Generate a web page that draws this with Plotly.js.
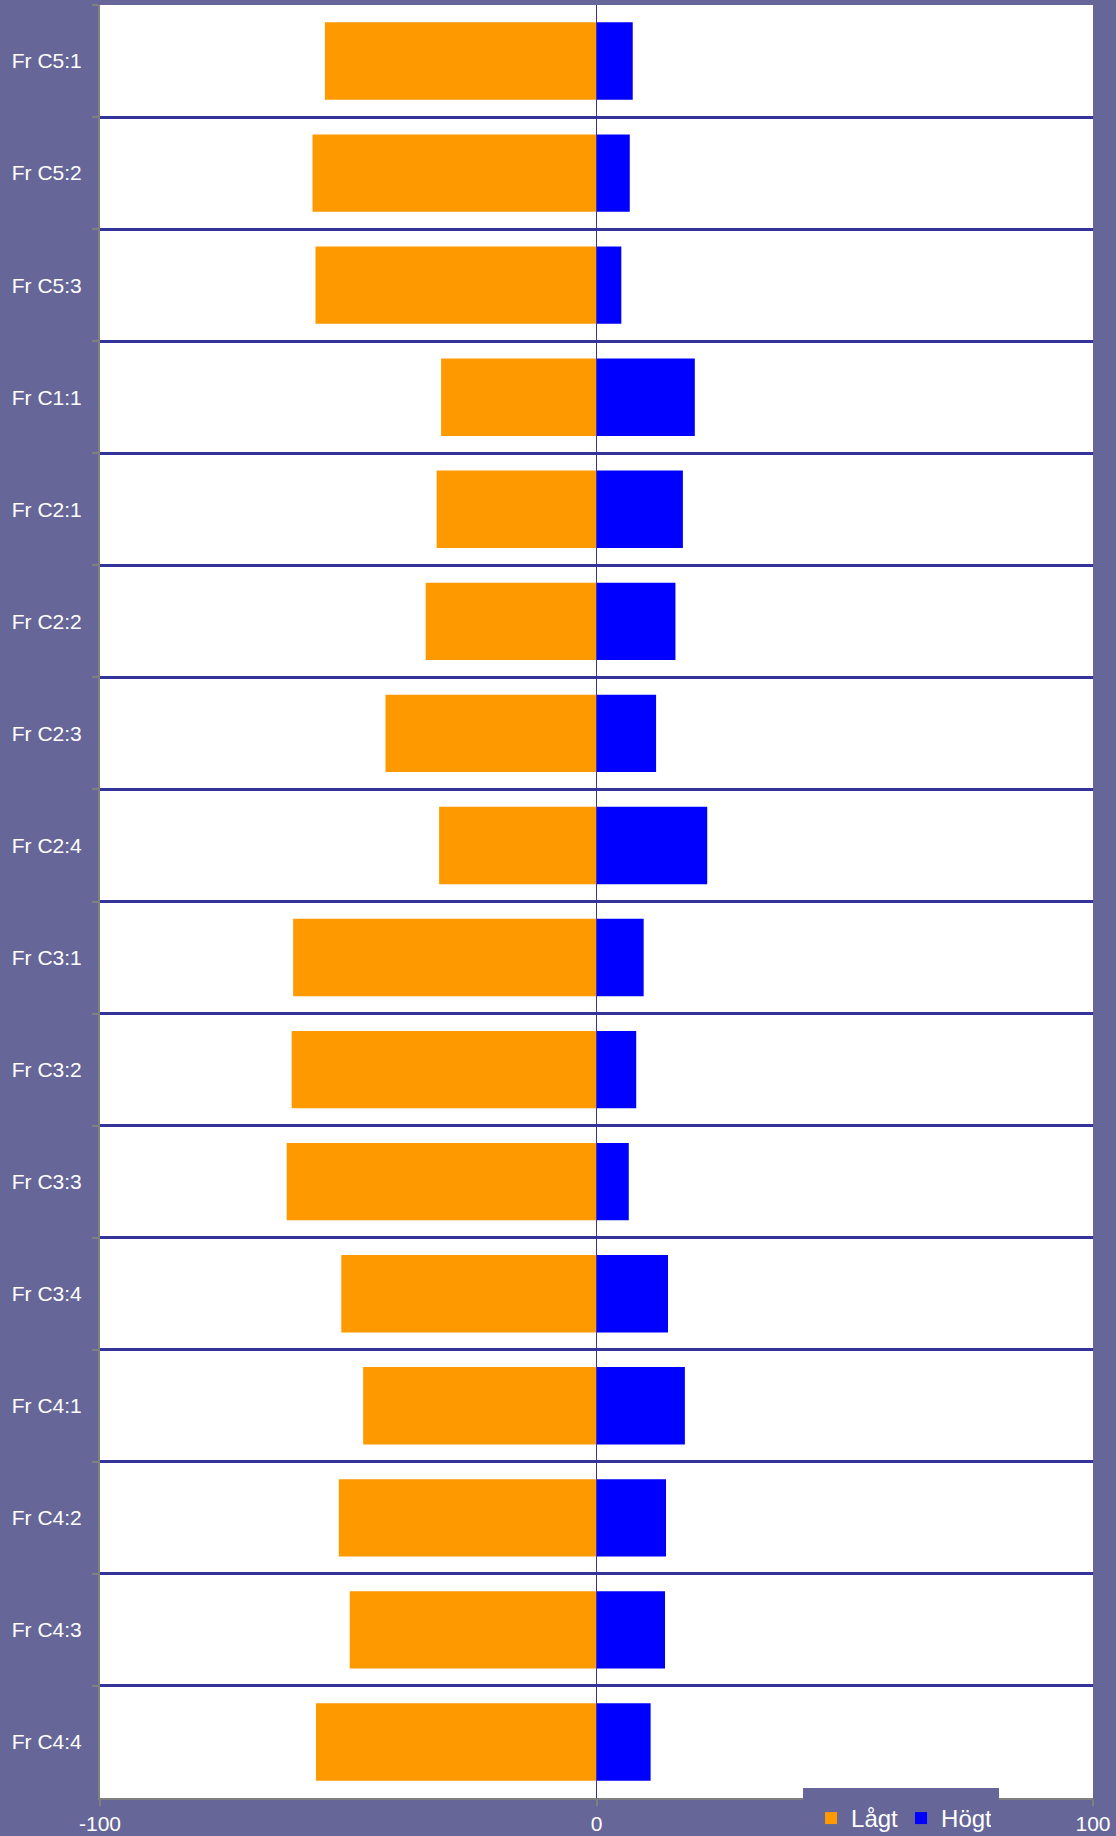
<!DOCTYPE html>
<html>
<head>
<meta charset="utf-8">
<script src="https://cdn.plot.ly/plotly-3.0.1.min.js"></script>
<style>html,body{margin:0;padding:0;background:#666699;}#chart{width:1116px;height:1836px;}</style>
</head>
<body>
<div id="chart"></div>
<script>
var categories = ["Fr C5:1","Fr C5:2","Fr C5:3","Fr C1:1","Fr C2:1","Fr C2:2","Fr C2:3","Fr C2:4","Fr C3:1","Fr C3:2","Fr C3:3","Fr C3:4","Fr C4:1","Fr C4:2","Fr C4:3","Fr C4:4"];
var lagt = [-54.7,-57.2,-56.6,-31.3,-32.2,-34.4,-42.5,-31.7,-61.1,-61.4,-62.4,-51.4,-47.0,-51.9,-49.7,-56.5];
var hogt = [7.3,6.7,5.0,19.8,17.4,15.9,12.0,22.3,9.5,8.0,6.5,14.4,17.8,14.0,13.8,10.9];
var xTicks = [-100,0,100];
var seriesNames = ["Lågt","Högt"];

var traces = [
  {type:"bar", orientation:"h", name:seriesNames[0], y:categories, x:lagt,
   marker:{color:"#FF9900", line:{width:0}}, hoverinfo:"x+y"},
  {type:"bar", orientation:"h", name:seriesNames[1], y:categories, x:hogt,
   marker:{color:"#0000FF", line:{width:0}}, hoverinfo:"x+y"}
];

var layout = {
  width:1116, height:1836,
  paper_bgcolor:"#666699", plot_bgcolor:"#FFFFFF",
  margin:{l:100, r:23, t:5, b:38, pad:0, autoexpand:false},
  font:{family:"Liberation Sans, Arial, sans-serif", color:"#FFFFFF"},
  barmode:"relative", bargap:0.31,
  showlegend:true,
  legend:{orientation:"h", x:0.708, xanchor:"left", y:0.0056, yanchor:"top",
          bgcolor:"#666699", bordercolor:"#666699", borderwidth:8,
          font:{size:24, color:"#FFFFFF"},
          traceorder:"normal", itemclick:false, entrywidth:45},
  xaxis:{range:[-100,100], tickvals:xTicks, ticktext:xTicks.map(String),
         showgrid:true, gridcolor:"#333399", gridwidth:2,
         zeroline:true, zerolinecolor:"#333399", zerolinewidth:1,
         showline:true, linecolor:"#808080", linewidth:2,
         ticks:"outside", tickcolor:"#808080", ticklen:6, tickwidth:2,
         tickfont:{size:21, color:"#FFFFFF"}, fixedrange:true},
  yaxis:{type:"category", autorange:"reversed", tickson:"boundaries",
         showgrid:true, gridcolor:"#333399", gridwidth:3,
         showline:true, linecolor:"#808080", linewidth:2,
         ticks:"outside", tickcolor:"#808080", ticklen:6, tickwidth:2,
         ticklabelstandoff:12,
         tickfont:{size:21, color:"#FFFFFF"}, fixedrange:true}
};

Plotly.newPlot("chart", traces, layout, {displayModeBar:false, staticPlot:true});
</script>
</body>
</html>
